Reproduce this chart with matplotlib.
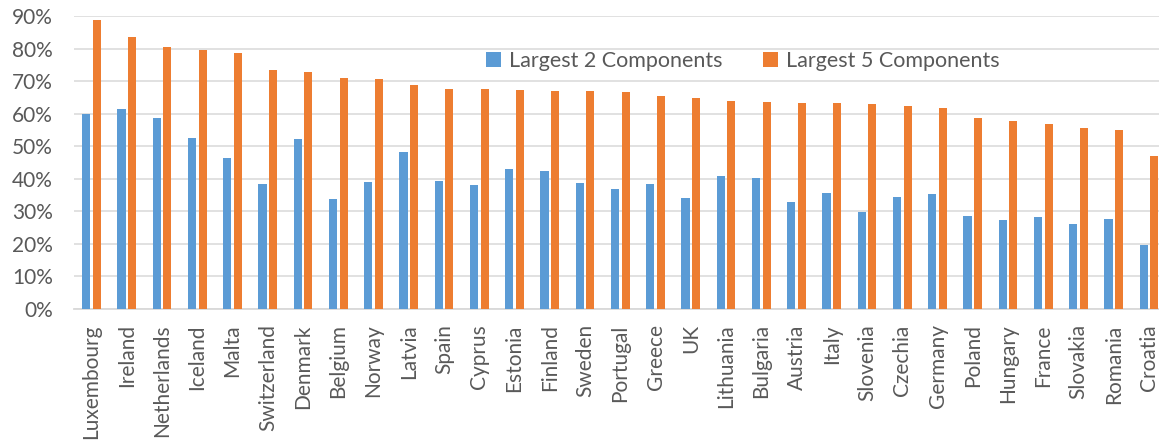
import numpy as np
import matplotlib.pyplot as plt
from matplotlib.ticker import FuncFormatter

countries = ['Luxembourg', 'Ireland', 'Netherlands', 'Iceland', 'Malta', 'Switzerland',
             'Denmark', 'Belgium', 'Norway', 'Latvia', 'Spain', 'Cyprus', 'Estonia',
             'Finland', 'Sweden', 'Portugal', 'Greece', 'UK', 'Lithuania', 'Bulgaria',
             'Austria', 'Italy', 'Slovenia', 'Czechia', 'Germany', 'Poland', 'Hungary',
             'France', 'Slovakia', 'Romania', 'Croatia']

# share of total (%)
largest2 = [59.8, 61.3, 58.7, 52.4, 46.5, 38.3, 52.3, 33.8, 39.1, 48.3, 39.3, 38.0, 42.9,
            42.4, 38.7, 37.0, 38.3, 34.0, 40.8, 40.2, 33.0, 35.7, 29.7, 34.4, 35.4, 28.7,
            27.4, 28.3, 26.2, 27.6, 19.6]
largest5 = [88.9, 83.5, 80.6, 79.6, 78.5, 73.3, 72.8, 71.0, 70.8, 68.7, 67.7, 67.5, 67.4,
            67.1, 66.9, 66.6, 65.5, 64.9, 63.8, 63.7, 63.4, 63.4, 62.9, 62.4, 61.8, 58.6,
            57.9, 56.9, 55.6, 55.0, 47.1]

blue = '#5B9BD5'
orange = '#ED7D31'
grey_txt = '#595959'
grid_col = '#D9D9D9'

plt.rcParams['font.family'] = ['Lato', 'DejaVu Sans']

fig = plt.figure(figsize=(11.59, 4.46), dpi=100)
ax = fig.add_axes([0.0638, 0.3072, 0.9428, 0.6569])

x = np.arange(len(countries))
w = 0.23
ax.bar(x - 0.15, largest2, width=w, color=blue, label='Largest 2 Components', zorder=3)
ax.bar(x + 0.15, largest5, width=w, color=orange, label='Largest 5 Components', zorder=3)

ax.set_xlim(-0.5, len(countries) - 0.5)
ax.set_ylim(0, 90)
ax.set_yticks(np.arange(0, 91, 10))
ax.yaxis.set_major_formatter(FuncFormatter(lambda v, p: '%d%%' % v))
ax.set_xticks(x)
ax.set_xticklabels(countries, rotation=90)

ax.grid(axis='y', color=grid_col, linewidth=1.1, zorder=0)
for s in ['top', 'right', 'left']:
    ax.spines[s].set_visible(False)
ax.spines['bottom'].set_color(grid_col)
ax.spines['bottom'].set_linewidth(1.3)

ax.tick_params(axis='y', length=0, pad=15, labelsize=15, labelcolor=grey_txt)
ax.tick_params(axis='x', length=0, pad=11, labelsize=15, labelcolor=grey_txt)

leg = ax.legend(ncol=2, loc='center', bbox_to_anchor=(0.612, 0.845), frameon=False,
                fontsize=15.5, handlelength=0.7, handleheight=0.7, handletextpad=0.4,
                columnspacing=1.85, labelcolor=grey_txt)

fig.savefig('out.png', dpi=100)
